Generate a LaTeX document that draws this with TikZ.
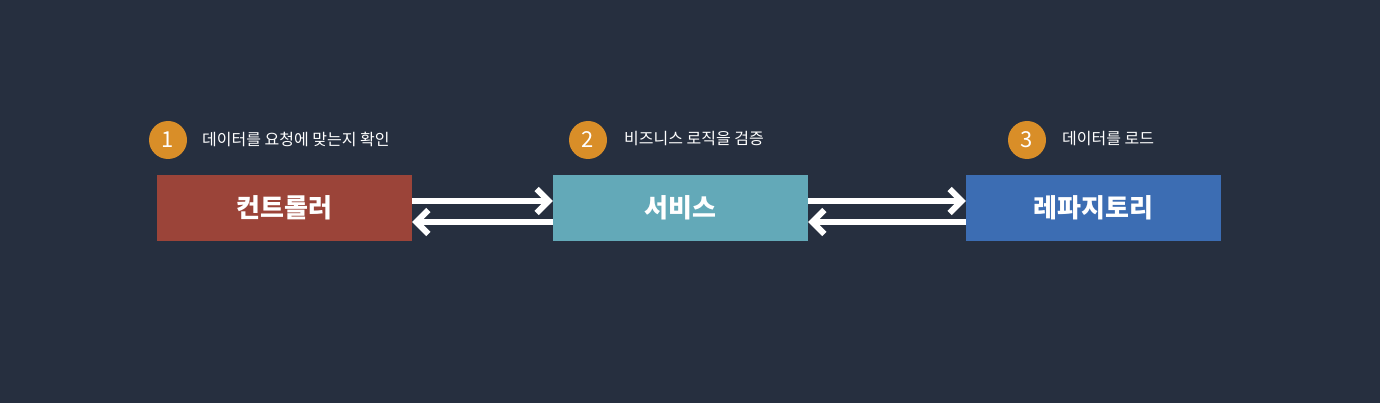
\documentclass[tikz,border=0pt]{standalone}
\usepackage{fontspec}
\setmainfont{Noto Sans CJK KR}
\usetikzlibrary{arrows.meta}
\definecolor{bg}{HTML}{262F3F}
\definecolor{ctrlc}{HTML}{9B4439}
\definecolor{svcc}{HTML}{63A9B8}
\definecolor{repoc}{HTML}{3C6DB3}
\definecolor{numc}{HTML}{D98E28}
\tikzset{
  box/.style={minimum width=255pt, minimum height=66pt, inner sep=0pt, text=white,
    font=\fontsize{26}{30}\selectfont\bfseries},
  num/.style={circle, fill=numc, minimum size=38pt, inner sep=0pt, text=white,
    font=\fontsize{22}{25}\selectfont},
  lbl/.style={anchor=west, inner sep=0pt, text=white, font=\fontsize{16}{19}\selectfont},
  flow/.style={draw=white, line width=6pt,
    -{Straight Barb[length=12pt, width=24pt, line width=6pt]}}
}
\begin{document}
\begin{tikzpicture}[x=1pt, y=-1pt]
\fill[bg] (0,0) rectangle (1380,403);
\useasboundingbox (0,0) rectangle (1380,403);
\node[box, fill=ctrlc] (ctrl) at (284.5,208) {컨트롤러};
\node[box, fill=svcc] (svc) at (680.5,208) {서비스};
\node[box, fill=repoc] (repo) at (1093.5,208) {레파지토리};
\node[num] (n1) at (168,140) {1};
\node[num] (n2) at (588,140) {2};
\node[num] (n3) at (1027,140) {3};
\node[lbl] (l1) at (202,139) {데이터를 요청에 맞는지 확인};
\node[lbl] (l2) at (624,139) {비즈니스 로직을 검증};
\node[lbl] (l3) at (1062,139) {데이터를 로드};
\draw[flow] ([yshift=7pt]ctrl.east) -- ([yshift=7pt]svc.west);
\draw[flow] ([yshift=-14pt]svc.west) -- ([yshift=-14pt]ctrl.east);
\draw[flow] ([yshift=7pt]svc.east) -- ([yshift=7pt]repo.west);
\draw[flow] ([yshift=-14pt]repo.west) -- ([yshift=-14pt]svc.east);
\end{tikzpicture}
\end{document}
